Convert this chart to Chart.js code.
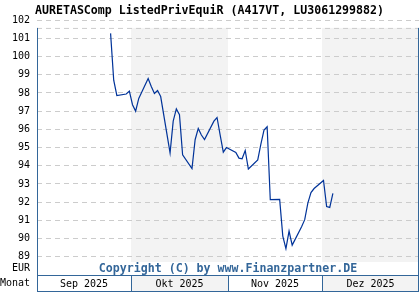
<!DOCTYPE html>
<html>
<head>
<meta charset="utf-8">
<title>AURETASComp ListedPrivEquiR</title>
<script src="https://cdn.jsdelivr.net/npm/chart.js@4.4.1/dist/chart.umd.min.js"></script>
<style>
  html, body { margin: 0; padding: 0; background: #fff; }
  #wrap { width: 420px; height: 300px; }
</style>
</head>
<body>
<div id="wrap"><canvas id="fundChart" width="420" height="300"></canvas></div>
<script>
// --- Kursdaten (Anteilspreis in EUR, nur Handelstage) ---
const priceDates = [
  '2025-09-24', '2025-09-25', '2025-09-26', '2025-09-29', '2025-09-30',
  '2025-10-01', '2025-10-02', '2025-10-03', '2025-10-06', '2025-10-07',
  '2025-10-08', '2025-10-09', '2025-10-10', '2025-10-13', '2025-10-14',
  '2025-10-15', '2025-10-16', '2025-10-17', '2025-10-20', '2025-10-21',
  '2025-10-22', '2025-10-23', '2025-10-24', '2025-10-27', '2025-10-28',
  '2025-10-29', '2025-10-30', '2025-10-31', '2025-11-03', '2025-11-04',
  '2025-11-05', '2025-11-06', '2025-11-07', '2025-11-10', '2025-11-11',
  '2025-11-12', '2025-11-13', '2025-11-14', '2025-11-17', '2025-11-18',
  '2025-11-19', '2025-11-20', '2025-11-21', '2025-11-24', '2025-11-25',
  '2025-11-26', '2025-11-27', '2025-11-28', '2025-12-01', '2025-12-02',
  '2025-12-03', '2025-12-04'
];
const priceValues = [
  101.27, 98.70, 97.86, 97.94, 98.10,
  97.35, 97.00, 97.70, 98.79, 98.35,
  97.97, 98.13, 97.80, 94.71, 96.45,
  97.12, 96.80, 94.60, 93.85, 95.43,
  96.05, 95.69, 95.44, 96.45, 96.65,
  95.68, 94.75, 95.00, 94.73, 94.42,
  94.38, 94.84, 93.82, 94.32, 95.19,
  95.96, 96.14, 92.14, 92.15, 90.14,
  89.45, 90.41, 89.64, 90.65, 91.04,
  91.95, 92.53, 92.75, 93.19, 91.76,
  91.71, 92.48
];

// --- Achsen ---
const monthStarts = ['2025-09-01', '2025-10-01', '2025-11-01', '2025-12-01', '2026-01-01'];
const monthLabels = ['Sep 2025', 'Okt 2025', 'Nov 2025', 'Dez 2025'];
const yTickValues = [89, 90, 91, 92, 93, 94, 95, 96, 97, 98, 99, 100, 101, 102];
const yMin = 88;
const yMax = 101.57;

const titleText = 'AURETASComp ListedPrivEquiR (A417VT, LU3061299882)';
const copyrightText = 'Copyright (C) by www.Finanzpartner.DE';
const unitLabel = 'EUR';
const periodLabel = 'Monat';

const BLUE = '#336699';
const LINE = '#003399';
const BAND = '#f3f3f3';
const GRID = '#cccccc';
const FONT = "'DejaVu Sans Mono', monospace";

// Tage seit 1. September (Kurse liegen in der Tagesmitte)
const t0 = Date.parse(monthStarts[0]);
const dayOf = s => (Date.parse(s) - t0) / 864e5;

const monthBounds = monthStarts.map(dayOf);
const monthCenters = monthLabels.map((_, i) => (monthBounds[i] + monthBounds[i + 1]) / 2);
const points = priceDates.map((d, i) => ({ x: dayOf(d) + 0.5, y: priceValues[i] }));

// Hintergrund-Streifen, Rahmen und Zusatztexte
const framePlugin = {
  id: 'frame',
  beforeDraw(chart) {
    const { ctx, chartArea: a, scales: { x } } = chart;
    const stripTop = a.bottom - 13;
    const rowBottom = a.bottom + 16.5;
    ctx.save();
    ctx.fillStyle = BAND;
    for (let i = 1; i < monthLabels.length; i += 2) {
      const x0 = x.getPixelForValue(monthBounds[i]);
      const x1 = x.getPixelForValue(monthBounds[i + 1]);
      ctx.fillRect(x0, a.top, x1 - x0, stripTop - a.top);
      ctx.fillRect(x0, a.bottom, x1 - x0, rowBottom - a.bottom);
    }
    ctx.restore();
  },
  afterDraw(chart) {
    const { ctx, chartArea: a, scales: { x } } = chart;
    const rowBottom = a.bottom + 16.5;
    ctx.save();
    // gestrichelte Oberkante
    ctx.strokeStyle = GRID;
    ctx.lineWidth = 1;
    ctx.setLineDash([5, 4]);
    ctx.beginPath();
    ctx.moveTo(a.left, a.top + 0.5);
    ctx.lineTo(a.right, a.top + 0.5);
    ctx.stroke();
    ctx.setLineDash([]);

    // Rahmen + Monatsraster
    ctx.strokeStyle = BLUE;
    ctx.beginPath();
    ctx.moveTo(a.left + 0.5, a.top);
    ctx.lineTo(a.left + 0.5, rowBottom);
    ctx.moveTo(a.right - 0.5, a.top);
    ctx.lineTo(a.right - 0.5, rowBottom);
    ctx.moveTo(a.left, a.bottom + 0.5);
    ctx.lineTo(a.right, a.bottom + 0.5);
    ctx.moveTo(a.left, rowBottom);
    ctx.lineTo(a.right, rowBottom);
    monthBounds.slice(1, -1).forEach(b => {
      const px = Math.round(x.getPixelForValue(b)) + 0.5;
      ctx.moveTo(px, a.bottom);
      ctx.lineTo(px, rowBottom);
    });
    ctx.stroke();

    // Texte
    ctx.textBaseline = 'middle';
    ctx.fillStyle = BLUE;
    ctx.textAlign = 'center';
    ctx.font = "bold 11.6px " + FONT;
    ctx.fillText(copyrightText, (a.left + a.right) / 2, a.bottom - 6.5);
    ctx.fillStyle = '#000';
    ctx.textAlign = 'right';
    ctx.font = "10px " + FONT;
    ctx.fillText(unitLabel, a.left - 7, a.bottom - 6.5);
    ctx.fillText(periodLabel, a.left - 7, a.bottom + 8.5);
    ctx.restore();
  }
};

Chart.defaults.font.family = FONT;

new Chart(document.getElementById('fundChart'), {
  type: 'line',
  data: {
    datasets: [{
      label: 'Kurs',
      data: points,
      borderColor: LINE,
      borderWidth: 1.2,
      pointRadius: 0,
      tension: 0,
      fill: false
    }]
  },
  options: {
    responsive: false,
    animation: false,
    devicePixelRatio: 1,
    layout: { padding: { left: 0, right: 1, top: 0, bottom: 0 } },
    plugins: {
      legend: { display: false },
      tooltip: { enabled: false },
      title: {
        display: true,
        text: titleText,
        color: '#000',
        font: { family: FONT, size: 11.6, weight: 'bold' },
        padding: { top: 4, bottom: 10 }
      }
    },
    scales: {
      x: {
        type: 'linear',
        min: monthBounds[0],
        max: monthBounds[monthBounds.length - 1],
        afterBuildTicks: scale => {
          scale.ticks = monthCenters.map(v => ({ value: v }));
        },
        afterFit: scale => { scale.height = 25; },
        ticks: {
          color: '#000',
          font: { size: 10 },
          padding: 3,
          maxRotation: 0,
          autoSkip: false,
          callback: (value, index) => monthLabels[index]
        },
        grid: { display: false, drawTicks: false },
        border: { display: false }
      },
      y: {
        min: yMin,
        max: yMax,
        afterBuildTicks: scale => {
          scale.ticks = yTickValues.map(v => ({ value: v }));
        },
        afterFit: scale => { scale.width = 37; },
        ticks: {
          color: '#000',
          font: { size: 10 },
          padding: 7,
          autoSkip: false,
          callback: v => v
        },
        grid: { color: GRID, lineWidth: 1, drawTicks: false },
        border: { display: false, dash: [5, 4] }
      }
    }
  },
  plugins: [framePlugin]
});
</script>
</body>
</html>
